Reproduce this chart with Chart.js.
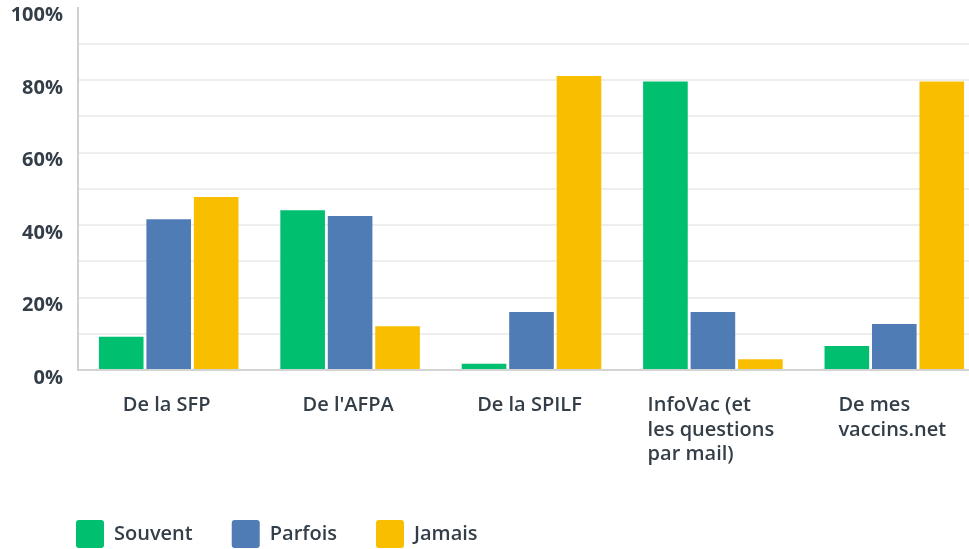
<!DOCTYPE html>
<html lang="fr">
<head>
<meta charset="utf-8">
<script src="https://cdn.jsdelivr.net/npm/chart.js@4/dist/chart.umd.min.js"></script>
<style>
    html, body { margin: 0; padding: 0; background: #ffffff; overflow: hidden; }
    #wrap { position: relative; width: 985px; height: 558px; }
</style>
</head>
<body>
<div id="wrap"><canvas id="chart"></canvas></div>
<script>
// catégories (une ligne par élément de tableau)
const categories = [
    ["De la SFP"],
    ["De l'AFPA"],
    ["De la SPILF"],
    ["InfoVac (et", "les questions", "par mail)"],
    ["De mes", "vaccins.net"]
];

// valeurs en %
const souvent = [9.2, 44.1, 1.7, 79.6, 6.6];
const parfois = [41.6, 42.5, 16.0, 16.0, 12.7];
const jamais  = [47.7, 12.1, 81.1, 3.0, 79.6];

const yTicks = [0, 20, 40, 60, 80, 100];

const textColor = "#333e48";

// labels de l'axe X : lignes alignées à gauche, bloc centré sur la catégorie
const xLabelPlugin = {
    id: "xLabels",
    beforeDraw(chart) {
        // décale la légende pour l'aligner sous l'axe
        chart.legend.left = 37;
    },
    afterDraw(chart) {
        const ctx = chart.ctx;
        const xs = chart.scales.x;
        ctx.save();
        ctx.font = '600 20px "Open Sans"';
        ctx.fillStyle = textColor;
        ctx.textAlign = "left";
        ctx.textBaseline = "alphabetic";
        categories.forEach((lines, i) => {
            const cx = xs.getPixelForTick(i);
            let w = 0;
            lines.forEach(l => { w = Math.max(w, ctx.measureText(l).width); });
            const left = cx - w / 2 - 2;
            lines.forEach((l, k) => {
                ctx.fillText(l, left, xs.top + 41 + k * 24.5);
            });
        });
        ctx.restore();
    }
};

new Chart(document.getElementById("chart"), {
    type: "bar",
    data: {
        labels: categories,
        datasets: [
            { label: "Souvent", data: souvent, backgroundColor: "#00bf6f" },
            { label: "Parfois", data: parfois, backgroundColor: "#507cb6" },
            { label: "Jamais",  data: jamais,  backgroundColor: "#f9be00" }
        ]
    },
    options: {
        responsive: true,
        maintainAspectRatio: false,
        animation: false,
        layout: { padding: { left: 0, top: 7.5, right: 0, bottom: 0 } },
        datasets: {
            bar: { categoryPercentage: 0.785, barPercentage: 0.94 }
        },
        plugins: {
            tooltip: { enabled: false },
            legend: {
                position: "bottom",
                align: "start",
                labels: {
                    boxWidth: 28,
                    boxHeight: 28,
                    useBorderRadius: true,
                    borderRadius: 3,
                    padding: 39,
                    color: textColor,
                    font: { family: "Open Sans", size: 20, weight: "600" }
                }
            }
        },
        scales: {
            x: {
                grid: { display: false },
                border: { display: true, color: "#d3d3d3", width: 2 },
                ticks: { display: false },
                afterFit: s => { s.height = 111; s.paddingLeft = 0; s.paddingRight = 0; }
            },
            y: {
                min: 0,
                max: 100,
                grid: {
                    color: c => (c.tick && c.tick.value === 100) ? "rgba(0,0,0,0)" : "#eeeeee",
                    lineWidth: 2,
                    drawTicks: false
                },
                border: { display: true, color: "#d0d0d0", width: 2 },
                ticks: {
                    stepSize: 10,
                    padding: 15,
                    labelOffset: 8,
                    color: textColor,
                    font: { family: "Open Sans", size: 20, weight: "bold" },
                    callback: v => yTicks.includes(v) ? v + "%" : ""
                },
                afterFit: s => { s.width = 78; s.paddingTop = 0; s.paddingBottom = 0; }
            }
        }
    },
    plugins: [xLabelPlugin]
});
</script>
</body>
</html>
